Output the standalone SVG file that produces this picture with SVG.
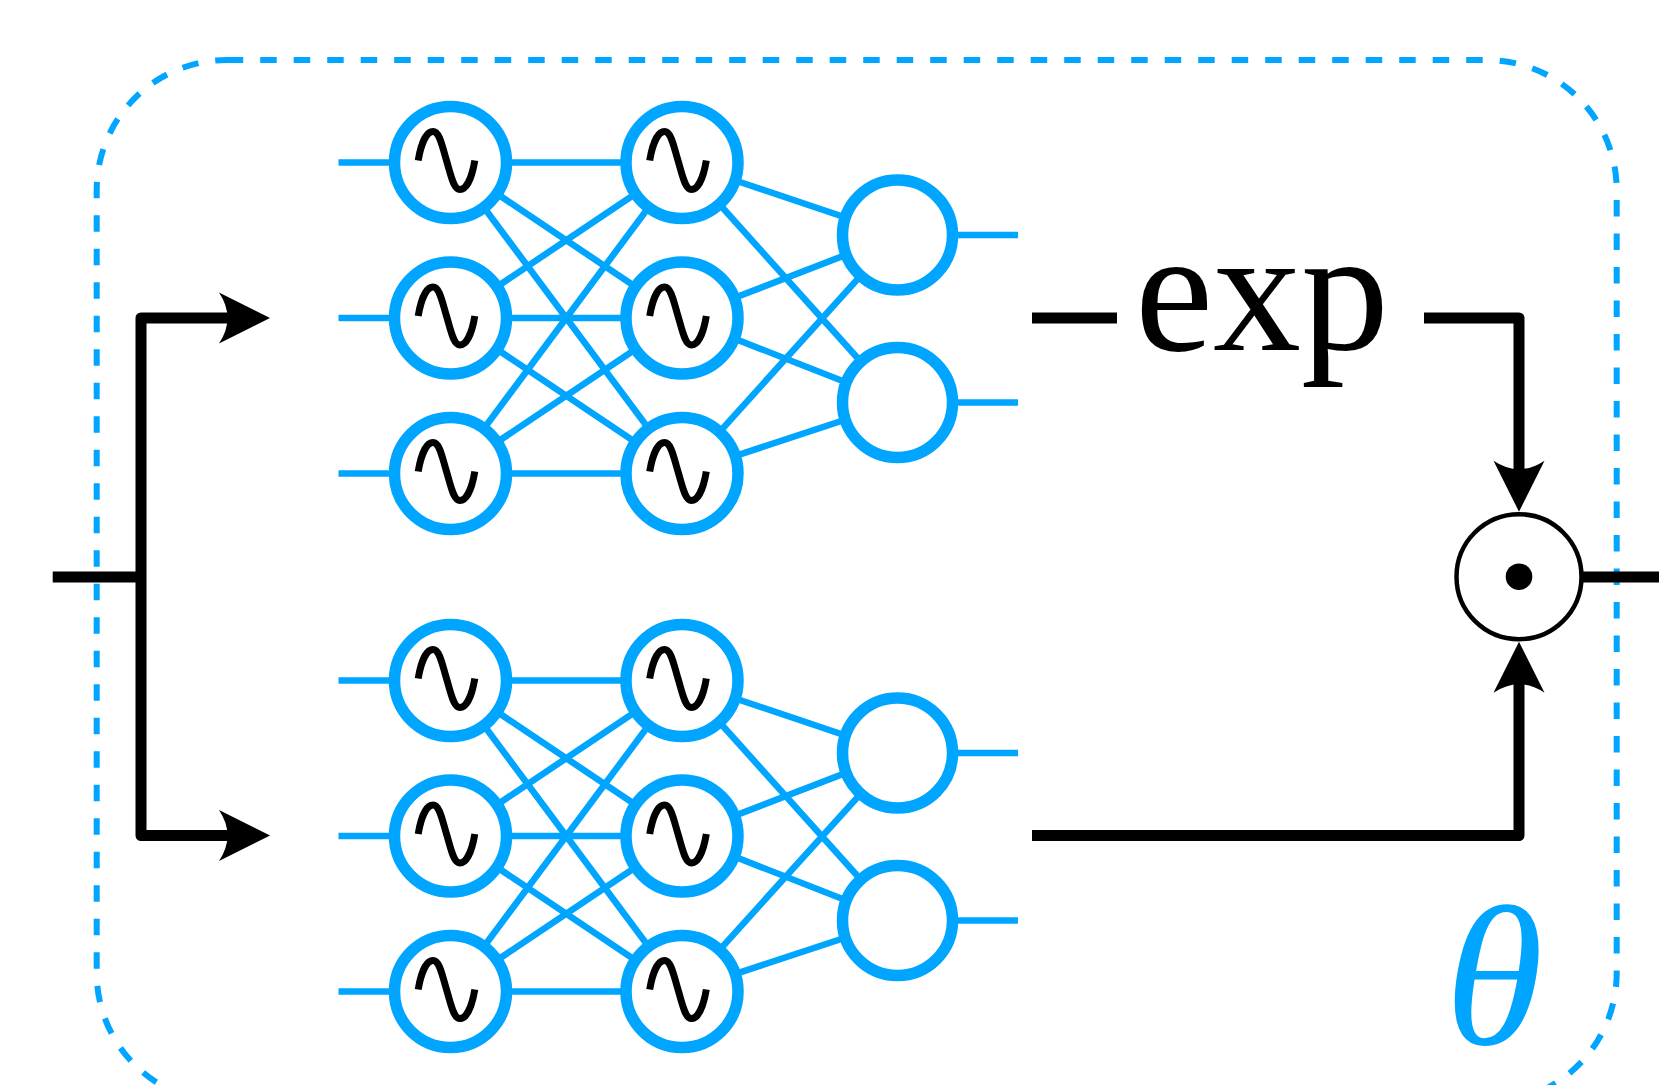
<svg xmlns="http://www.w3.org/2000/svg" xmlns:xlink="http://www.w3.org/1999/xlink" width="1659" height="1085" viewBox="0 0 1659 1085">
  <style>
    .frame { fill: none; stroke: #00A5FF; stroke-width: 6; stroke-dasharray: 16.5 17; }
    .edge { fill: none; stroke: #00A5FF; stroke-width: 6.5; }
    .neuron { fill: #ffffff; stroke: #00A5FF; stroke-width: 11.5; }
    .sine { fill: none; stroke: #000000; stroke-width: 7; }
    .wire { fill: none; stroke: #000000; stroke-width: 11; stroke-linejoin: round; }
    .arrow { marker-end: url(#head); }
    .label { font-family: "Liberation Serif", "DejaVu Serif", serif; }
  </style>
  <defs>
    <!-- curved-back arrowhead; tip lies 38px beyond the line end -->
    <marker id="head" markerUnits="userSpaceOnUse" viewBox="-54 -28 58 56" markerWidth="58" markerHeight="56" refX="-38" refY="0" orient="auto" overflow="visible">
      <path d="M0,0 L-51,-25.5 Q-34,0 -51,25.5 Z" fill="#000000"/>
    </marker>
    <!-- sine activation icon (slightly slanted), centred on its origin -->
    <path id="sine" class="sine" d="M-28.3,0 C-25.5,-17 -20,-29 -13.5,-29 C-7,-29 -4.5,-15 0,0 C4.5,15 7,29 13.5,29 C20,29 25.5,17 28.3,0"/>
  </defs>

  <rect width="1659" height="1085" fill="#ffffff"/>

  <!-- parameter block -->
  <rect id="theta-block" class="frame" x="96.7" y="60" width="1520" height="1043" rx="130" ry="130"/>

  <g id="connectors">
    <!-- upper network edges -->
    <path class="edge" d="M338.5,162.5H450.5 M338.5,318H450.5 M338.5,473.5H450.5
      M450.5,162.5L682,162.5 M450.5,162.5L682,318 M450.5,162.5L682,473.5
      M450.5,318L682,162.5 M450.5,318L682,318 M450.5,318L682,473.5
      M450.5,473.5L682,162.5 M450.5,473.5L682,318 M450.5,473.5L682,473.5
      M682,162.5L897.5,235 M682,162.5L897.5,402.5
      M682,318L897.5,235 M682,318L897.5,402.5
      M682,473.5L897.5,235 M682,473.5L897.5,402.5
      M897.5,235H1018 M897.5,402.5H1018"/>
    <!-- lower network edges -->
    <path class="edge" d="M338.5,680.5H450.5 M338.5,836H450.5 M338.5,991.5H450.5
      M450.5,680.5L682,680.5 M450.5,680.5L682,836 M450.5,680.5L682,991.5
      M450.5,836L682,680.5 M450.5,836L682,836 M450.5,836L682,991.5
      M450.5,991.5L682,680.5 M450.5,991.5L682,836 M450.5,991.5L682,991.5
      M682,680.5L897.5,753 M682,680.5L897.5,920.5
      M682,836L897.5,753 M682,836L897.5,920.5
      M682,991.5L897.5,753 M682,991.5L897.5,920.5
      M897.5,753H1018 M897.5,920.5H1018"/>

    <!-- input split -->
    <path class="wire" d="M52.7,577H141"/>
    <path class="wire arrow" d="M141,577V318H232"/>
    <path class="wire arrow" d="M141,577V835.5H232"/>
    <!-- scale branch through exp -->
    <path class="wire" d="M1032,318H1117"/>
    <path class="wire arrow" d="M1424,318H1519V473.7"/>
    <!-- shift branch -->
    <path class="wire arrow" d="M1032,835.5H1519V679.7"/>
    <!-- output -->
    <path class="wire" d="M1581,577H1659"/>
  </g>

  <!-- upper network -->
  <g id="u-h1-1"><circle class="neuron" cx="450.5" cy="162.5" r="56"/><use xlink:href="#sine" x="446.5" y="160.5"/></g>
  <g id="u-h1-2"><circle class="neuron" cx="450.5" cy="318" r="56"/><use xlink:href="#sine" x="446.5" y="316"/></g>
  <g id="u-h1-3"><circle class="neuron" cx="450.5" cy="473.5" r="56"/><use xlink:href="#sine" x="446.5" y="471.5"/></g>
  <g id="u-h2-1"><circle class="neuron" cx="682" cy="162.5" r="56"/><use xlink:href="#sine" x="678" y="160.5"/></g>
  <g id="u-h2-2"><circle class="neuron" cx="682" cy="318" r="56"/><use xlink:href="#sine" x="678" y="316"/></g>
  <g id="u-h2-3"><circle class="neuron" cx="682" cy="473.5" r="56"/><use xlink:href="#sine" x="678" y="471.5"/></g>
  <g id="u-out-1"><circle class="neuron" cx="897.5" cy="235" r="55"/></g>
  <g id="u-out-2"><circle class="neuron" cx="897.5" cy="402.5" r="55"/></g>

  <!-- lower network -->
  <g id="l-h1-1"><circle class="neuron" cx="450.5" cy="680.5" r="56"/><use xlink:href="#sine" x="446.5" y="678.5"/></g>
  <g id="l-h1-2"><circle class="neuron" cx="450.5" cy="836" r="56"/><use xlink:href="#sine" x="446.5" y="834"/></g>
  <g id="l-h1-3"><circle class="neuron" cx="450.5" cy="991.5" r="56"/><use xlink:href="#sine" x="446.5" y="989.5"/></g>
  <g id="l-h2-1"><circle class="neuron" cx="682" cy="680.5" r="56"/><use xlink:href="#sine" x="678" y="678.5"/></g>
  <g id="l-h2-2"><circle class="neuron" cx="682" cy="836" r="56"/><use xlink:href="#sine" x="678" y="834"/></g>
  <g id="l-h2-3"><circle class="neuron" cx="682" cy="991.5" r="56"/><use xlink:href="#sine" x="678" y="989.5"/></g>
  <g id="l-out-1"><circle class="neuron" cx="897.5" cy="753" r="55"/></g>
  <g id="l-out-2"><circle class="neuron" cx="897.5" cy="920.5" r="55"/></g>

  <!-- exp label -->
  <g id="exp">
    <text class="label" x="1135" y="350" font-size="176" fill="#000000">exp</text>
  </g>

  <!-- elementwise product -->
  <g id="odot">
    <circle cx="1519" cy="576.7" r="62.5" fill="#ffffff" stroke="#000000" stroke-width="4.5"/>
    <circle cx="1519" cy="576.7" r="13.3" fill="#000000"/>
  </g>

  <!-- parameter symbol -->
  <g id="theta-label">
    <text class="label" x="1494" y="1044" font-size="200" font-style="italic" text-anchor="middle" fill="#00A5FF">θ</text>
  </g>
</svg>
